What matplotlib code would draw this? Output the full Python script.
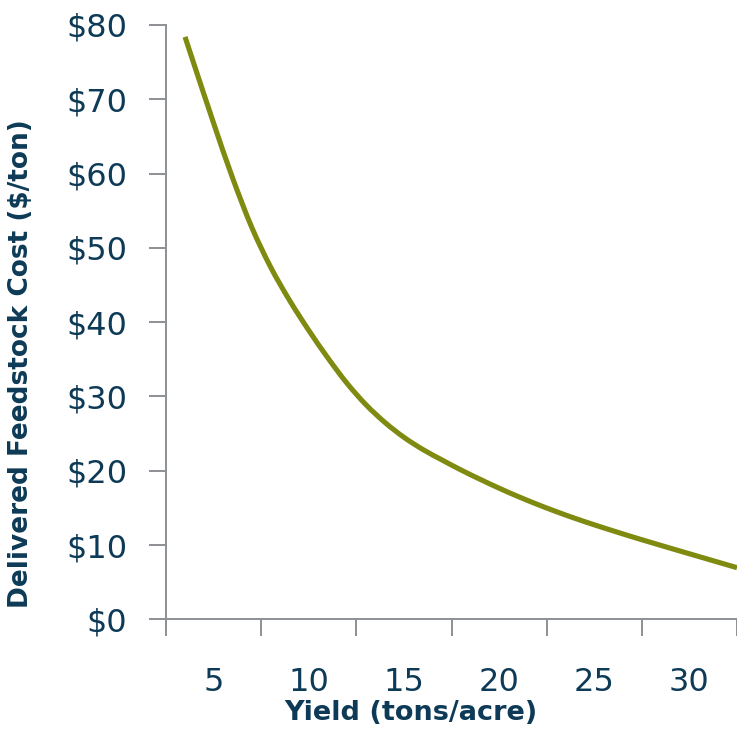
import numpy as np
import matplotlib.pyplot as plt
from matplotlib.path import Path
from matplotlib.patches import PathPatch
from matplotlib.ticker import FixedLocator, FuncFormatter

# yield (tons/acre) vs delivered feedstock cost ($/ton)
yields = [3.5, 4, 5, 6, 7, 8, 9, 10, 11, 12, 13, 14, 15, 16, 17, 18, 19, 20,
          21, 22, 23, 24, 25, 26, 27, 28, 29, 30, 31, 32, 32.5]
cost = [78.4, 74.5, 66.8, 59.4, 52.8, 47.4, 42.9, 38.9, 35.2, 31.8, 28.9, 26.5,
        24.5, 22.85, 21.45, 20.1, 18.85, 17.65, 16.53, 15.48, 14.5, 13.58,
        12.72, 11.9, 11.1, 10.33, 9.57, 8.82, 8.07, 7.32, 6.95]

x_labels = [5, 10, 15, 20, 25, 30]
y_ticks = [0, 10, 20, 30, 40, 50, 60, 70, 80]

navy = '#0d3a56'
grey = '#8c9196'
olive = '#7f8a10'


def smooth_path(xs, ys):
    # Catmull-Rom style bezier through the points (like a "smoothed line")
    p = np.column_stack([xs, ys])
    verts = [p[0]]
    codes = [Path.MOVETO]
    n = len(p)
    for i in range(n - 1):
        p0 = p[max(i - 1, 0)]
        p1 = p[i]
        p2 = p[i + 1]
        p3 = p[min(i + 2, n - 1)]
        verts += [p1 + (p2 - p0) / 6, p2 - (p3 - p1) / 6, p2]
        codes += [Path.CURVE4] * 3
    return Path(verts, codes)


fig = plt.figure(figsize=(7.37, 7.29), dpi=100)
ax = fig.add_axes([166 / 737, 1 - 619.3 / 729, 571 / 737, 594.3 / 729])

ax.add_patch(PathPatch(smooth_path(yields, cost), fill=False, edgecolor=olive,
                       lw=3.7, capstyle='butt', clip_on=False))

ax.set_xlim(2.5, 32.5)
ax.set_ylim(0, 80)

for side in ['top', 'right']:
    ax.spines[side].set_visible(False)
for side in ['left', 'bottom']:
    ax.spines[side].set_color(grey)
    ax.spines[side].set_linewidth(1.4)

# labels sit between the tick marks
ax.xaxis.set_major_locator(FixedLocator(x_labels))
ax.xaxis.set_minor_locator(FixedLocator(np.arange(2.5, 33, 5)))
ax.tick_params(axis='x', which='major', length=0, pad=34, labelsize=23,
               labelcolor=navy)
ax.tick_params(axis='x', which='minor', length=12, width=1.4, color=grey)

ax.yaxis.set_major_locator(FixedLocator(y_ticks))
ax.yaxis.set_major_formatter(FuncFormatter(lambda v, p: f'${v:.0f}'))
ax.tick_params(axis='y', length=12, width=1.4, color=grey, pad=16,
               labelsize=23, labelcolor=navy)

ax.set_xlabel('Yield (tons/acre)', fontsize=19.5, fontweight='bold', color=navy)
ax.xaxis.set_label_coords(0.429, -0.136)
ax.set_ylabel('Delivered Feedstock Cost ($/ton)', fontsize=19,
              fontweight='bold', color=navy)
ax.yaxis.set_label_coords(-0.232, 0.43)

fig.savefig('out.png', dpi=100)
